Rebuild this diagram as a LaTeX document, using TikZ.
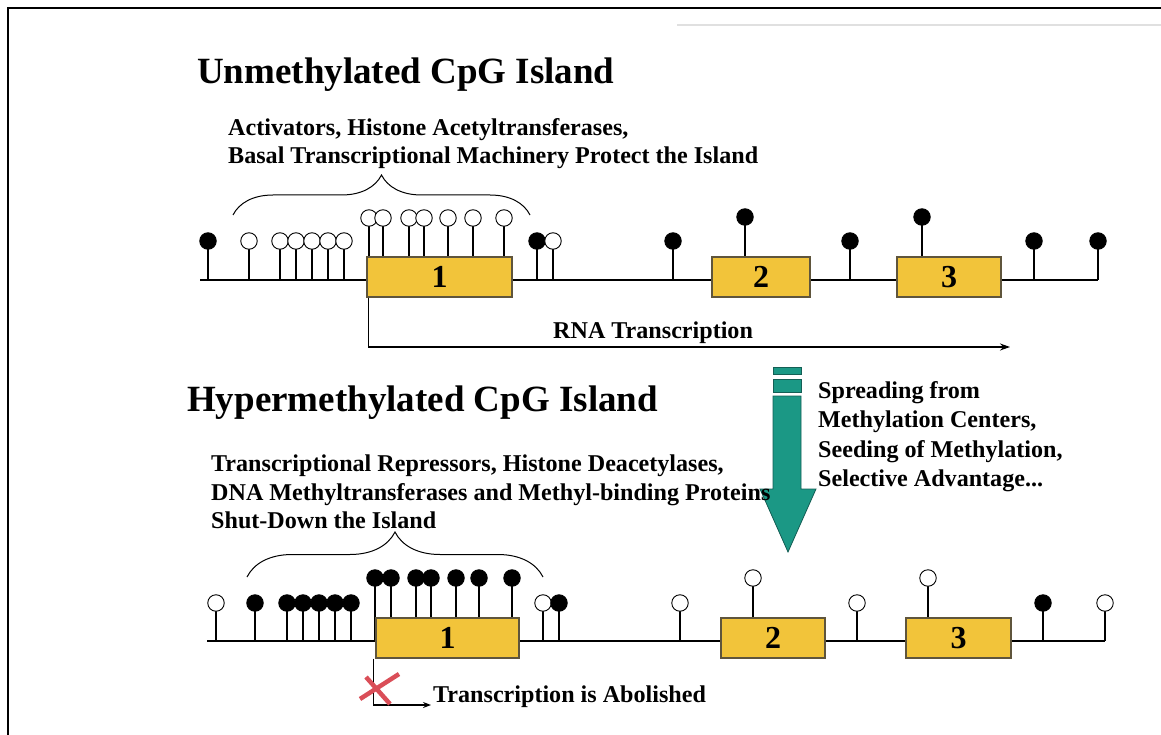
\documentclass[tikz,border=0pt]{standalone}
\usepackage{fontspec}
\setmainfont{Liberation Serif}
\usetikzlibrary{arrows.meta,decorations.pathreplacing}

\definecolor{exongold}{RGB}{242,196,58}
\definecolor{exonedge}{RGB}{95,85,60}
\definecolor{spreadteal}{RGB}{27,152,133}
\definecolor{spreadedge}{RGB}{20,95,85}
\definecolor{blockred}{RGB}{218,78,88}

\tikzset{
  cpg/.style={circle, draw, line width=0.9pt, inner sep=0pt, minimum size=16.5pt},
  exon/.style={draw=exonedge, line width=1.2pt, fill=exongold, inner sep=0pt,
    minimum height=40pt, font=\bfseries\fontsize{32}{32}\selectfont},
  headline/.style={anchor=base west, inner sep=0pt, font=\bfseries\fontsize{37}{40}\selectfont},
  note/.style={anchor=base west, inner sep=0pt, font=\bfseries\fontsize{24.1}{28}\selectfont},
  strand/.style={line width=1.3pt},
  islandbrace/.style={decorate, line width=1pt}
}

\begin{document}
\begin{tikzpicture}[x=1pt, y=-1pt]
\useasboundingbox (0,0) rectangle (1161,735);
% frame
\draw[line width=2.5pt] (8,735) -- (8,8) -- (1161,8);
\draw[black!12, line width=1.2pt] (677,25) -- (1161,25);

% ---------- unmethylated island ----------
\node[headline] (title1) at (197,84) {Unmethylated CpG Island};
\node[note] (act1) at (228,136) {Activators, Histone Acetyltransferases,};
\node[note] (act2) at (228,164) {Basal Transcriptional Machinery Protect the Island};
\draw[islandbrace, decoration={brace, amplitude=40pt}] (233,215) -- (530,215);

\coordinate (top0) at (200,280);
\coordinate (top1) at (1098,280);
\draw[strand] (top0) -- (top1);
\foreach \x/\y/\c in {208/241/black, 249/241/white, 280/241/white, 296/241/white,
    312/241/white, 328/241/white, 344/241/white, 369/218/white, 383/218/white,
    409/218/white, 424/218/white, 448/218/white, 473/218/white, 504/218/white,
    537/241/black, 553/241/white, 673/241/black, 745/217/black, 850/241/black,
    922/217/black, 1034/241/black, 1098/241/black} {
  \draw[strand] (\x,\y) -- (\x,280);
  \node[cpg, fill=\c] (u\x) at (\x,\y) {};
}
\node[exon, minimum width=145pt] (uex1) at (439.5,277) {1};
\node[exon, minimum width=98pt] (uex2) at (761,277) {2};
\node[exon, minimum width=104pt] (uex3) at (949,277) {3};

\coordinate (rnaend) at (1010,347);
\draw[strand, -{Stealth[length=10pt, width=7pt]}] ([xshift=2pt]uex1.south west) |- (rnaend);
\node[note] (rna) at (553,338) {RNA Transcription};

% ---------- spreading arrow ----------
\fill[spreadteal, draw=spreadedge, line width=0.8pt] (773,367) rectangle (801,374);
\fill[spreadteal, draw=spreadedge, line width=0.8pt] (773,379) rectangle (801,392);
\fill[spreadteal, draw=spreadedge, line width=0.8pt] (773,396) -- (801,396) -- (801,489)
  -- (816,489) -- (788,552) -- (760,489) -- (773,489) -- cycle;
\node[note] (sp1) at (818,398) {Spreading from};
\node[note] (sp2) at (818,427) {Methylation Centers,};
\node[note] (sp3) at (818,457) {Seeding of Methylation,};
\node[note] (sp4) at (818,486) {Selective Advantage...};

% ---------- hypermethylated island ----------
\node[headline] (title2) at (187,411) {Hypermethylated CpG Island};
\node[note] (rep1) at (211,471) {Transcriptional Repressors, Histone Deacetylases,};
\node[note] (rep2) at (211,500) {DNA Methyltransferases and Methyl-binding Proteins};
\node[note] (rep3) at (211,528) {Shut-Down the Island};
\draw[islandbrace, decoration={brace, amplitude=45pt}] (247,577) -- (543,577);

\coordinate (bot0) at (207,641);
\coordinate (bot1) at (1105,641);
\draw[strand] (bot0) -- (bot1);
\foreach \x/\y/\c in {216/603/white, 255/603/black, 287/603/black, 303/603/black,
    319/603/black, 335/603/black, 351/603/black, 375/578/black, 391/578/black,
    416/578/black, 431/578/black, 456/578/black, 479/578/black, 512/578/black,
    543/603/white, 559/603/black, 680/603/white, 753/578/white, 857/603/white,
    928/578/white, 1043/603/black, 1105/603/white} {
  \draw[strand] (\x,\y) -- (\x,641);
  \node[cpg, fill=\c] (h\x) at (\x,\y) {};
}
\node[exon, minimum width=143pt] (hex1) at (447.5,638) {1};
\node[exon, minimum width=104pt] (hex2) at (773,638) {2};
\node[exon, minimum width=105pt] (hex3) at (958.5,638) {3};

\coordinate (abolend) at (431,705);
\draw[strand, -{Stealth[length=8pt, width=6pt]}] ([xshift=-2pt]hex1.south west) |- (abolend);
\node[note] (abol) at (433,702) {Transcription is Abolished};
% the block
\draw[blockred, line width=4.5pt] (360,699) -- (399,674);
\draw[blockred, line width=4.5pt] (366,677) -- (390,704);
\end{tikzpicture}
\end{document}
